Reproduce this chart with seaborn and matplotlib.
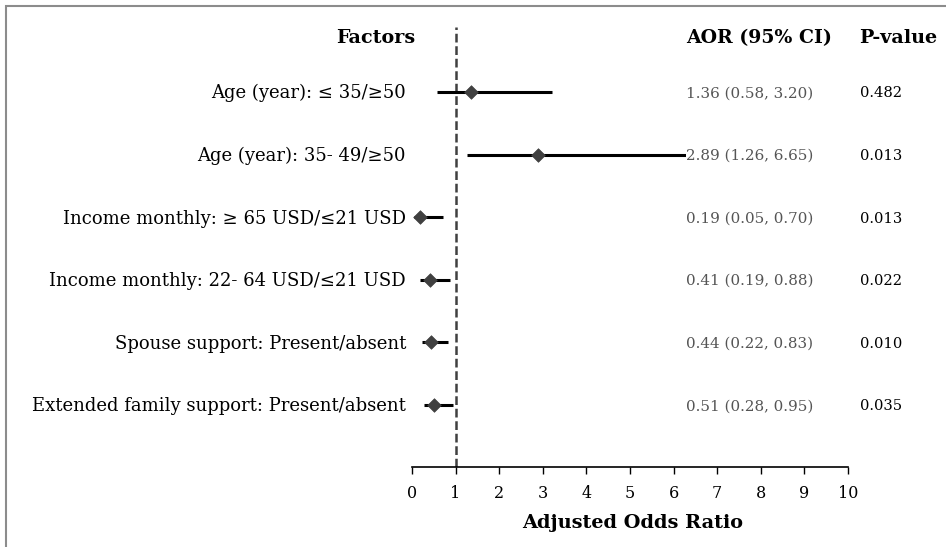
import matplotlib
matplotlib.use("Agg")
import matplotlib.pyplot as plt
import seaborn as sns
import pandas as pd
from matplotlib.patches import Rectangle

# Forest plot data (adjusted odds ratios with 95% CI)
factors = [
    "Age (year): \u2264 35/\u226550",
    "Age (year): 35- 49/\u226550",
    "Income monthly: \u2265 65 USD/\u226421 USD",
    "Income monthly: 22- 64 USD/\u226421 USD",
    "Spouse support: Present/absent",
    "Extended family support: Present/absent",
]
aor = [1.36, 2.89, 0.19, 0.41, 0.44, 0.51]
ci_low = [0.58, 1.26, 0.05, 0.19, 0.22, 0.28]
ci_high = [3.20, 6.65, 0.70, 0.88, 0.83, 0.95]
p_values = ["0.482", "0.013", "0.013", "0.022", "0.010", "0.035"]
x_ticks = list(range(0, 11))

df = pd.DataFrame({"factor": factors, "aor": aor, "low": ci_low, "high": ci_high,
                   "p": p_values})
df["row"] = range(len(df))

sns.set_theme(style="white")
plt.rcParams["font.family"] = ["DejaVu Serif"]
plt.rcParams["text.color"] = "black"
plt.rcParams["axes.labelcolor"] = "black"
plt.rcParams["xtick.color"] = "black"

fig = plt.figure(figsize=(9.46, 5.47), dpi=100)
ax = fig.add_axes([412 / 946, 80 / 547, 436 / 946, 440 / 547])

# frame around the figure (only left/top visible in the crop)
fig.patches.append(Rectangle((6 / 946, -0.1), 1.2, (541 / 547) + 0.1,
                             transform=fig.transFigure, fill=False,
                             edgecolor="#8c8c8c", linewidth=1.5))

# CI lines
ax.hlines(df["row"], df["low"], df["high"], color="black", linewidth=2.2, zorder=2)
# point estimates
sns.scatterplot(data=df, x="aor", y="row", marker="D", s=48, color="#404040",
                edgecolor="#404040", linewidth=0.5, ax=ax, zorder=3, legend=False)

# reference line at OR = 1
ax.axvline(1, color="#404040", linewidth=1.8, linestyle=(0, (3.5, 1.5)), zorder=1)

ax.set_xlim(0, 10)
ax.set_ylim(5.99, -1.04)
ax.set_xticks(x_ticks)
ax.set_xticklabels([str(t) for t in x_ticks], fontsize=11.5)
ax.set_yticks([])
ax.tick_params(axis="x", direction="out", length=5, width=1, color="black", pad=8,
               bottom=True, labelcolor="black")
for s in ["top", "right", "left"]:
    ax.spines[s].set_visible(False)
ax.spines["bottom"].set_color("black")
ax.spines["bottom"].set_linewidth(1.2)
ax.set_xlabel("Adjusted Odds Ratio", fontsize=13.9, fontweight="bold",
              color="black")
ax.xaxis.set_label_coords(0.507, -0.106)
ax.set_ylabel("")

# row labels, AOR text and p-values
for i, r in df.iterrows():
    ax.text(-0.14, r["row"] + 0.02, r["factor"], ha="right", va="center",
            fontsize=13.0, color="black", clip_on=False)
    ax.text(6.28, r["row"] + 0.02, f"{r['aor']:.2f} ({r['low']:.2f}, {r['high']:.2f})",
            ha="left", va="center", fontsize=10.9, color="#555555", clip_on=False,
            zorder=4, bbox=dict(facecolor="white", edgecolor="none", pad=0))
    ax.text(10.27, r["row"] + 0.02, r["p"], ha="left", va="center", fontsize=10.6,
            color="black", clip_on=False)

# column headers
ax.text(0.07, -0.86, "Factors", ha="right", va="center", fontsize=13.8,
        fontweight="bold", clip_on=False)
ax.text(7.95, -0.86, "AOR (95% CI)", ha="center", va="center", fontsize=13.6,
        fontweight="bold", clip_on=False)
ax.text(11.14, -0.86, "P-value", ha="center", va="center", fontsize=13.8,
        fontweight="bold", clip_on=False)

fig.savefig("out.png", dpi=100)
plt.close(fig)
